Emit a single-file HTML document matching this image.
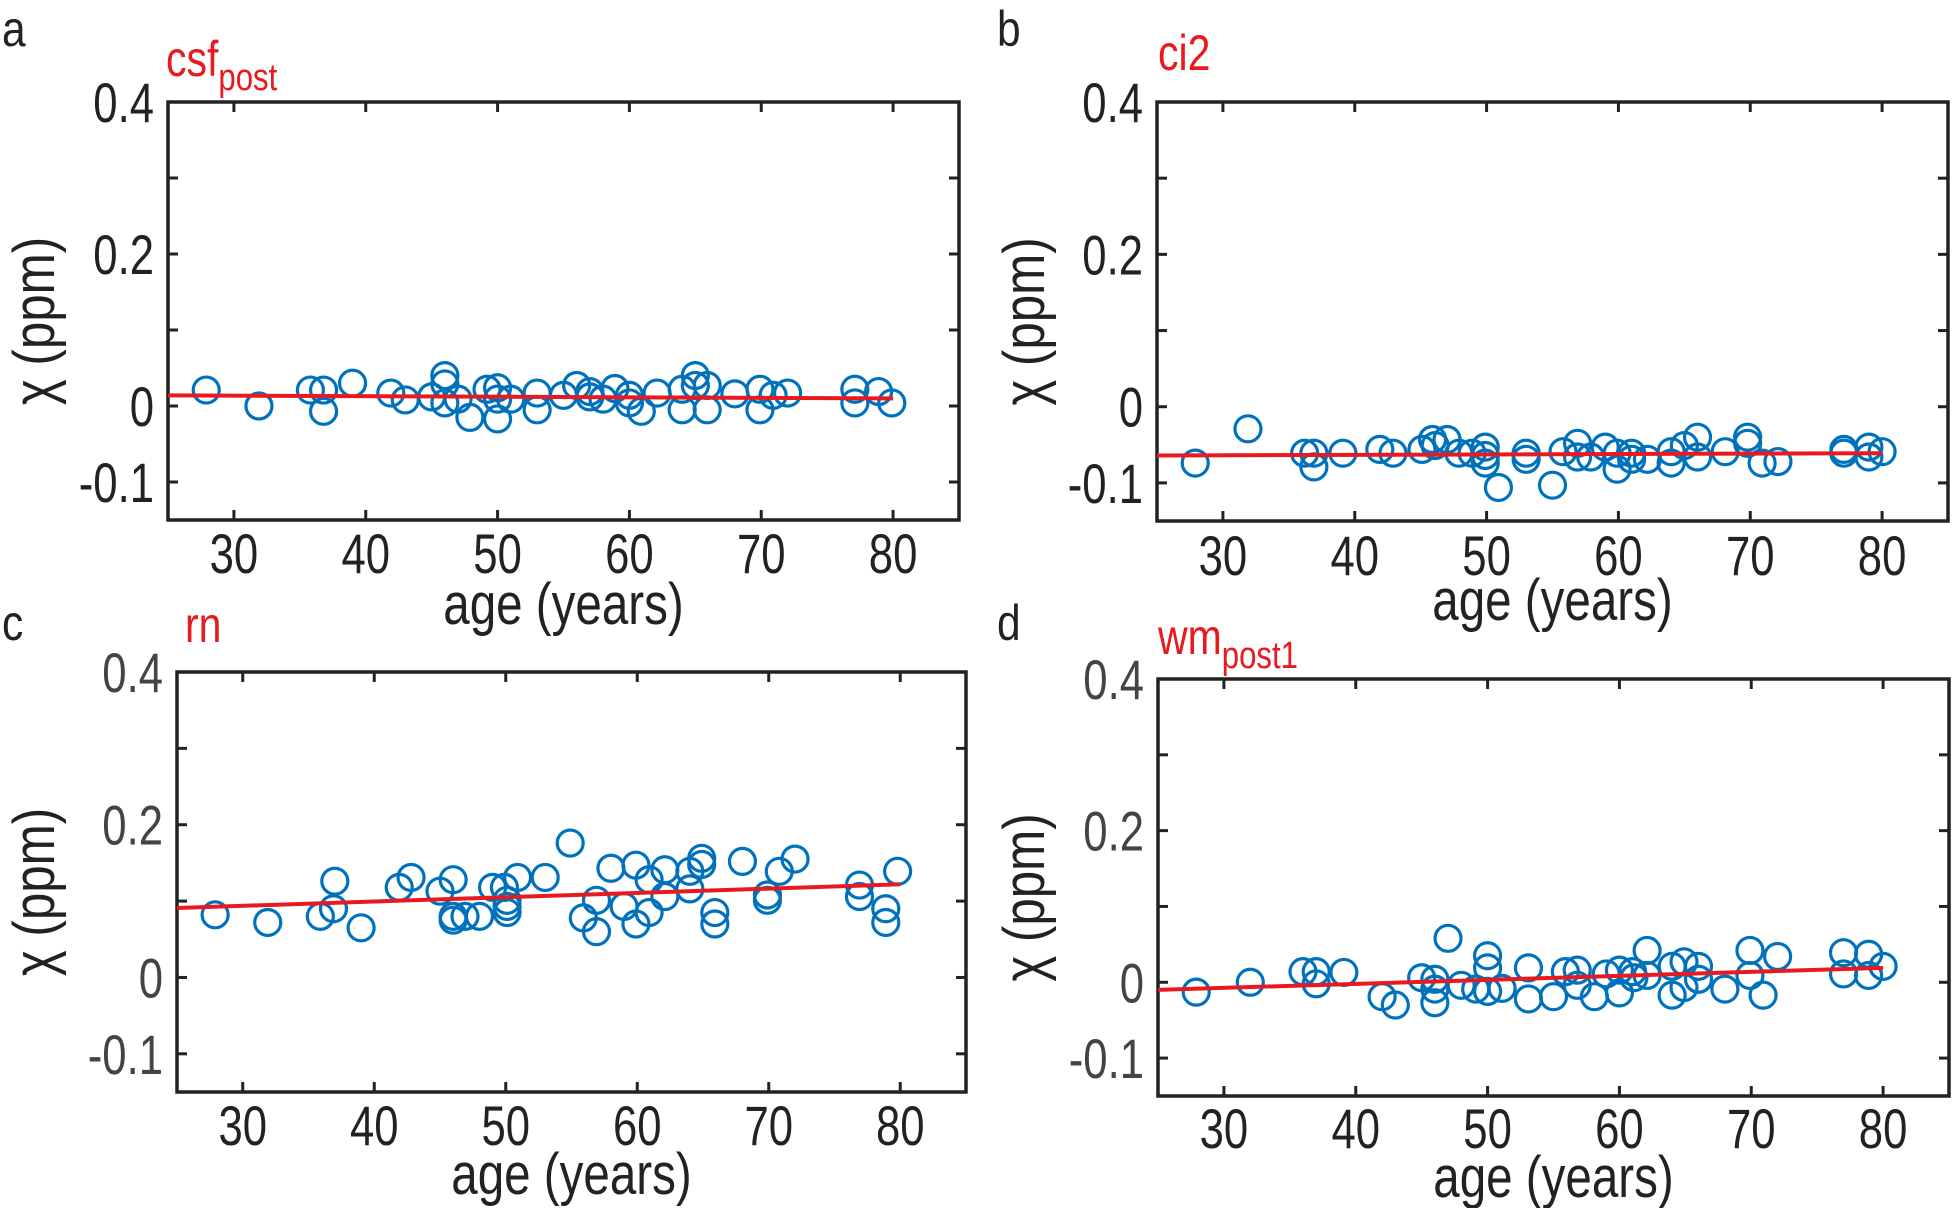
<!DOCTYPE html>
<html><head><meta charset="utf-8"><style>
html,body{margin:0;padding:0;background:#fff;}
svg{display:block;}
text{font-family:"Liberation Sans",sans-serif;}
</style></head><body>
<svg id="fig" width="1952" height="1208" viewBox="0 0 1952 1208"></svg>
<script>
const aAges=[27.9,31.9,35.8,36.8,36.8,39,41.9,43,45,46,46,46,47,47.9,49.2,50,50,50,51,53,53,55,56,57,57,58,58.9,60,60,60.9,62.1,64,64,65,65,65.9,65.9,68,69.9,69.9,70.9,72,77.1,77.1,78.9,79.9];
const aVals=[0.021,0,0.021,0.021,-0.007,0.030,0.017,0.008,0.012,0.040,0.029,0.004,0.009,-0.015,0.022,0.024,0.009,-0.017,0.009,0.017,-0.005,0.014,0.027,0.019,0.012,0.009,0.023,0.014,0.004,-0.007,0.017,0.022,-0.005,0.040,0.027,0.027,-0.005,0.016,0.022,-0.005,0.014,0.017,0.022,0.004,0.019,0.004];
const aFit=[0.014,0.010];
const bAges=[27.9,31.9,36.2,36.9,36.9,39.1,41.9,42.9,45.1,45.9,46.1,47,47.9,48.9,49.9,49.9,49.9,50.9,53,53,55,55.8,56.9,56.9,57.9,59,59.9,59.9,61,61,62.2,64,64,65,66,66,68.1,69.8,69.8,70.9,72.1,77.1,77.1,79,79,80];
const bVals=[-0.074,-0.029,-0.061,-0.061,-0.079,-0.061,-0.056,-0.061,-0.056,-0.043,-0.051,-0.043,-0.061,-0.061,-0.053,-0.064,-0.074,-0.106,-0.061,-0.069,-0.103,-0.059,-0.048,-0.066,-0.066,-0.053,-0.061,-0.082,-0.061,-0.069,-0.069,-0.059,-0.074,-0.051,-0.040,-0.066,-0.059,-0.040,-0.048,-0.074,-0.072,-0.056,-0.061,-0.053,-0.066,-0.059];
const bFit=[-0.064,-0.061];
const cAges=[27.9,31.9,35.9,36.9,37,39,41.9,42.8,45,46,46,46,46.9,48,49,49.9,50.1,50.1,50.1,50.9,53,54.9,55.9,56.9,56.9,58,59,59.9,59.9,60.9,60.9,62.1,62.1,64,64,64.9,64.9,65.9,65.9,68,69.9,69.9,70.8,72,76.9,76.9,78.9,78.9,79.8];
const cVals=[0.082,0.072,0.080,0.090,0.126,0.065,0.118,0.131,0.113,0.128,0.080,0.075,0.080,0.080,0.118,0.118,0.101,0.093,0.085,0.131,0.131,0.176,0.078,0.101,0.060,0.143,0.093,0.147,0.070,0.128,0.085,0.141,0.106,0.116,0.139,0.156,0.148,0.085,0.070,0.152,0.108,0.101,0.139,0.155,0.121,0.106,0.090,0.072,0.139];
const cFit=[0.091,0.122];
const dAges=[27.9,32,36,37,37,39.1,42,43,45,46,46,46,47,48,49.1,50,50,50,51.1,53.1,53.1,55,55.9,56.8,56.8,58.1,59,60,60,61,61.1,62.1,62.1,64,64,64.9,64.9,66,66,68,69.9,69.9,70.9,72,77,77,78.9,78.9,80];
const dVals=[-0.013,0,0.014,0.014,-0.002,0.013,-0.019,-0.030,0.006,0.004,-0.009,-0.027,0.058,-0.004,-0.009,0.035,0.019,-0.012,-0.008,0.019,-0.022,-0.019,0.014,0.016,-0.004,-0.019,0.011,0.016,-0.014,0.014,0.006,0.042,0.009,0.021,-0.017,0.027,-0.007,0.021,0.004,-0.009,0.042,0.009,-0.017,0.034,0.039,0.011,0.037,0.009,0.021];
const dFit=[-0.010,0.019];
const xTicks=[30,40,50,60,70,80];
const yTicks=[-0.1,0,0.1,0.2,0.3,0.4];
const yTickLabels=["-0.1","0","","0.2","","0.4"];
const fitRange=[25,80];

const NS="http://www.w3.org/2000/svg";
const svg=document.getElementById('fig');
function mk(tag,attrs,parent){const e=document.createElementNS(NS,tag);for(const k in attrs)e.setAttribute(k,attrs[k]);(parent||svg).appendChild(e);return e;}
function txt(parent,x,y,size,anchor,fill,sx,rot){
 const g=mk('g',{transform:`translate(${x} ${y})${rot?' rotate('+rot+')':''} scale(${sx} 1)`},parent);
 return mk('text',{x:0,y:0,'font-size':size,'text-anchor':anchor,fill:fill},g);
}

const panels=[
 {id:'a',box:[168,102,959,520],ages:aAges,vals:aVals,fit:aFit,letter:[2,46],title:'csf',sub:'post',tpos:[166,76],tickCol:'#222',xtb:573,xtt:624,ytx:54},
 {id:'b',box:[1157,102,1948,521],ages:bAges,vals:bVals,fit:bFit,letter:[997,46],title:'ci2',sub:'',tpos:[1158,70],tickCol:'#222',xtb:575,xtt:620,ytx:1044},
 {id:'c',box:[177,672,966,1092],ages:cAges,vals:cVals,fit:cFit,letter:[2,640],title:'rn',sub:'',tpos:[185,642],tickCol:'#444',xtb:1145,xtt:1194,ytx:54},
 {id:'d',box:[1158,679,1949,1096],ages:dAges,vals:dVals,fit:dFit,letter:[997,640],title:'wm',sub:'post1',tpos:[1158,654],tickCol:'#444',xtb:1148,xtt:1197,ytx:1044}
];

panels.forEach(p=>{
 const [L,T,R,B]=p.box;
 const g=mk('g',{});
 
 
 const xs=v=>L+(v-25)/(85-25)*(R-L);
 const ys=v=>B-(v+0.15)/(0.55)*(B-T);
 const lt=txt(g,p.letter[0],p.letter[1],50,'start','#222',0.85);
 lt.textContent=p.id;
 
 
 const tt=txt(g,p.tpos[0],p.tpos[1],50,'start','#e8191f',0.82);
 
 
 tt.textContent=p.title;
 if(p.sub){const s=mk('tspan',{'font-size':38,dy:14},tt);s.textContent=p.sub;}
 xTicks.forEach(t=>{
  const x=xs(t);
  mk('line',{x1:x,y1:B,x2:x,y2:B-10,stroke:'#222','stroke-width':3},g);
  mk('line',{x1:x,y1:T,x2:x,y2:T+10,stroke:'#222','stroke-width':3},g);
  const tl=txt(g,x,p.xtb,56,'middle','#222',0.78);
  
  
  tl.textContent=t;
 });
 yTicks.forEach((t,i)=>{
  const y=ys(t);
  mk('line',{x1:L,y1:y,x2:L+10,y2:y,stroke:'#222','stroke-width':3},g);
  mk('line',{x1:R,y1:y,x2:R-10,y2:y,stroke:'#222','stroke-width':3},g);
  if(yTickLabels[i]){
   const tl=txt(g,L-14,y+20,56,'end',p.tickCol,0.78);
   
   
   tl.textContent=yTickLabels[i];
  }
 });
 const box=mk('rect',{x:L,y:T,width:R-L,height:B-T,fill:'none',stroke:'#222','stroke-width':3.5},g);
 
 
 const xt=txt(g,(L+R)/2,p.xtt,58,'middle','#222',0.82);
 
 
 xt.textContent='age (years)';
 const cy=(T+B)/2+10;
 const yt=txt(g,p.ytx,cy,58,'middle','#222',0.85,-90);
 
 
 yt.textContent='χ (ppm)';
 p.ages.forEach((a,i)=>{
  const c=mk('circle',{cx:xs(a),cy:ys(p.vals[i]),r:13,fill:'none',stroke:'#0072BD','stroke-width':3.2},g);
  
  
 });
 const fl=mk('line',{x1:xs(fitRange[0]),y1:ys(p.fit[0]),x2:xs(fitRange[1]),y2:ys(p.fit[1]),stroke:'#e8191f','stroke-width':4},g);
 
 
});
</script>
</body></html>
